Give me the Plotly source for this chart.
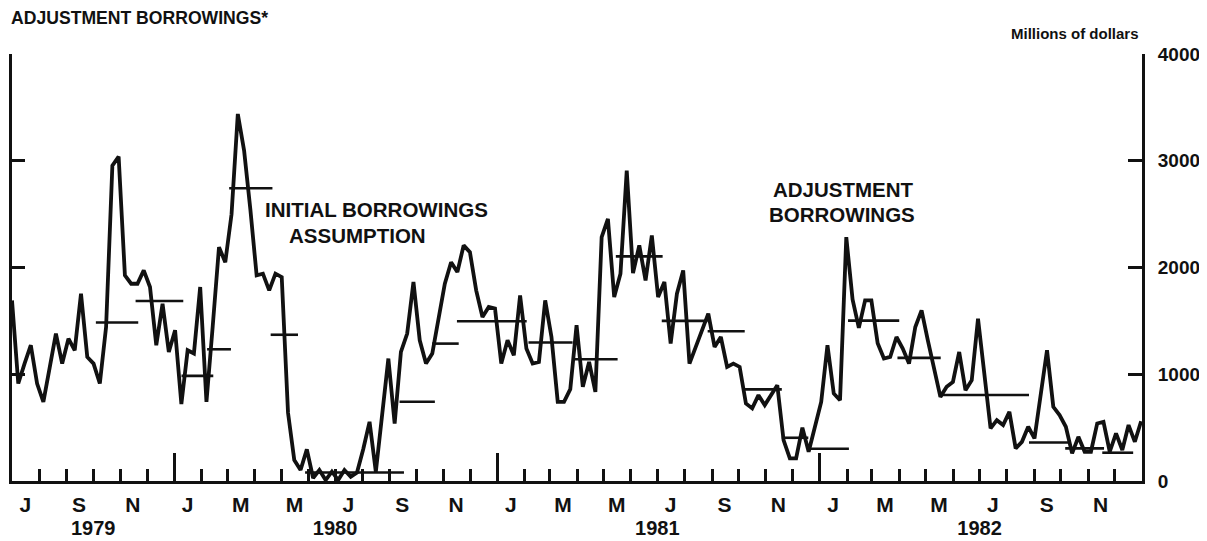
import pandas as pd
import plotly.graph_objects as go

# Weekly adjustment borrowings, millions of dollars, Jul 1979 - Dec 1982
borrowings = [
    1692, 913, 1100, 1272, 913, 742, 1060, 1381, 1100, 1334,
    1225, 1755, 1162, 1100, 913, 1443, 2954, 3039, 1926, 1848,
    1848, 1973, 1817, 1272, 1661, 1209, 1412, 720, 1225, 1194,
    1817, 742, 1450, 2191, 2050, 2500, 3438, 3095, 2543, 1926,
    1942, 1786, 1942, 1910, 640, 196, 103, 296, 28, 103,
    9, 87, 9, 103, 40, 80, 300, 554, 87, 620,
    1147, 539, 1209, 1381, 1864, 1318, 1100, 1194, 1536, 1848,
    2050, 1957, 2207, 2144, 1786, 1536, 1630, 1615, 1100, 1318,
    1178, 1739, 1241, 1100, 1115, 1692, 1349, 742, 742, 860,
    1459, 882, 1115, 835, 2284, 2456, 1723, 1942, 2908, 1948,
    2207, 1879, 2300, 1723, 1864, 1287, 1755, 1973, 1100, 1250,
    1410, 1568, 1256, 1349, 1069, 1100, 1069, 726, 680, 804,
    711, 800, 898, 383, 212, 212, 500, 274, 500, 740,
    1272, 820, 757, 2284, 1700, 1435, 1692, 1692, 1290, 1147,
    1162, 1349, 1240, 1100, 1443, 1599, 1318, 1038, 788, 882,
    928, 1209, 851, 944, 1521, 1007, 493, 570, 524, 648,
    306, 367, 508, 399, 800, 1225, 695, 617, 508, 259,
    414, 274, 274, 539, 554, 274, 446, 290, 524, 367,
    560,
]
weeks = pd.date_range("1979-07-01", "1982-12-31", periods=len(borrowings))

# Initial borrowings assumption for each reserve-path period
seg_start = ["1979-10-04", "1979-11-18", "1980-01-09", "1980-02-07", "1980-03-03",
             "1980-04-19", "1980-05-28", "1980-09-12", "1980-10-19", "1980-11-16",
             "1981-02-05", "1981-03-27", "1981-05-15", "1981-07-06", "1981-08-27",
             "1981-10-06", "1981-11-19", "1981-12-19", "1982-02-02", "1982-03-30",
             "1982-05-18", "1982-08-26", "1982-10-06", "1982-11-17"]
seg_end = ["1979-11-21", "1980-01-11", "1980-02-14", "1980-03-05", "1980-04-21",
           "1980-05-20", "1980-09-17", "1980-10-22", "1980-11-18", "1981-02-03",
           "1981-03-27", "1981-05-17", "1981-07-07", "1981-08-27", "1981-10-08",
           "1981-11-19", "1981-12-19", "1982-02-03", "1982-04-01", "1982-05-18",
           "1982-08-26", "1982-10-12", "1982-11-19", "1982-12-22"]
seg_value = [1485, 1686, 985, 1234, 2742, 1370, 80, 742, 1287, 1496,
             1297, 1141, 2104, 1500, 1403, 858, 405, 302, 1502, 1153,
             806, 360, 306, 265]

month_label_dates = ["1979-07-16", "1979-09-15", "1979-11-15", "1980-01-16", "1980-03-16",
                     "1980-05-16", "1980-07-16", "1980-09-15", "1980-11-15", "1981-01-16",
                     "1981-03-16", "1981-05-16", "1981-07-16", "1981-09-15", "1981-11-15",
                     "1982-01-16", "1982-03-16", "1982-05-16", "1982-07-16", "1982-09-15",
                     "1982-11-15"]
month_labels = ["J", "S", "N", "J", "M", "M", "J", "S", "N", "J", "M", "M",
                "J", "S", "N", "J", "M", "M", "J", "S", "N"]
year_label_dates = ["1979-10-01", "1980-07-01", "1981-07-01", "1982-07-01"]
year_labels = ["1979", "1980", "1981", "1982"]
year_starts = ["1980-01-01", "1981-01-01", "1982-01-01"]
y_ticks = [0, 1000, 2000, 3000, 4000]

X_RANGE = ["1979-07-01", "1983-01-01"]
Y_RANGE = [0, 4000]
FONT = "Liberation Sans, Arial, sans-serif"
BLACK = "#111111"

fig = go.Figure()
fig.add_trace(go.Scatter(x=weeks, y=borrowings, mode="lines",
                         line=dict(color=BLACK, width=3.8), showlegend=False,
                         hoverinfo="skip"))
sx, sy = [], []
for s, e, v in zip(seg_start, seg_end, seg_value):
    sx += [s, e, None]
    sy += [v, v, None]
fig.add_trace(go.Scatter(x=sx, y=sy, mode="lines", line=dict(color=BLACK, width=2.6),
                         showlegend=False, hoverinfo="skip"))
# helper empty traces so overlay axes are drawn
fig.add_trace(go.Scatter(x=[], y=[], xaxis="x2", yaxis="y2", showlegend=False))
fig.add_trace(go.Scatter(x=[], y=[], xaxis="x3", yaxis="y3", showlegend=False))

tickfont = dict(family=FONT, size=21, color=BLACK, weight="bold")

# page body has an 8px margin, so the figure is 8px smaller than the window
fig.update_layout(
    width=1199, height=533,
    margin=dict(l=4, r=65, t=46, b=60),
    paper_bgcolor="white", plot_bgcolor="white",
    showlegend=False,
    xaxis=dict(type="date", range=X_RANGE, showgrid=False, zeroline=False, automargin=False,
               showline=True, linecolor=BLACK, linewidth=3,
               ticks="inside", tickvals=year_starts, ticklen=28, tickwidth=2.5,
               tickcolor=BLACK, showticklabels=False,
               minor=dict(ticks="inside", dtick="M1", tick0="1979-07-01",
                          ticklen=12, tickwidth=2.5, tickcolor=BLACK, showgrid=False)),
    xaxis2=dict(type="date", range=X_RANGE, overlaying="x", anchor="y", side="bottom",
                automargin=False,
                showgrid=False, zeroline=False, showline=False, ticks="",
                tickvals=month_label_dates, ticktext=month_labels,
                tickfont=tickfont, ticklabelstandoff=9),
    xaxis3=dict(type="date", range=X_RANGE, overlaying="x", anchor="y", side="bottom",
                automargin=False,
                showgrid=False, zeroline=False, showline=False, ticks="",
                tickvals=year_label_dates, ticktext=year_labels,
                tickfont=dict(family=FONT, size=20, color=BLACK, weight="bold"),
                ticklabelstandoff=33),
    yaxis=dict(range=Y_RANGE, side="right", anchor="x", showgrid=False, zeroline=False,
               automargin=False,
               showline=True, linecolor=BLACK, linewidth=3,
               ticks="inside", tickvals=y_ticks, ticklen=14, tickwidth=2.5,
               tickcolor=BLACK, tickfont=dict(family=FONT, size=19, color=BLACK, weight="bold"),
               ticklabelstandoff=9),
    yaxis2=dict(range=Y_RANGE, overlaying="y", side="left", anchor="x", automargin=False,
                showgrid=False, zeroline=False, showline=True, linecolor=BLACK,
                linewidth=3, ticks="inside", tickvals=[4000], ticklen=25,
                tickwidth=2.5, tickcolor=BLACK, showticklabels=False,
                minor=dict(ticks="inside", tickvals=[1000, 2000, 3000], ticklen=13,
                           tickwidth=2.5, tickcolor=BLACK, showgrid=False)),
    yaxis3=dict(range=Y_RANGE, overlaying="y", side="right", anchor="x", automargin=False,
                showgrid=False, zeroline=False, showline=False,
                ticks="inside", tickvals=[4000], ticklen=29, tickwidth=2.5,
                tickcolor=BLACK, showticklabels=False),
)

text_font = dict(family=FONT, size=20.5, color=BLACK, weight="bold")
annotations = [
    dict(text="ADJUSTMENT BORROWINGS*", x=-0.003, y=1.084, xanchor="left", yanchor="middle",
         font=dict(family=FONT, size=17.6, color=BLACK, weight="bold")),
    dict(text="Millions of dollars", x=0.999, y=1.047, xanchor="right", yanchor="middle",
         font=dict(family=FONT, size=15, color=BLACK, weight="bold")),
    dict(text="INITIAL BORROWINGS", x=0.3227, y=0.637, xanchor="center", yanchor="middle",
         font=text_font),
    dict(text="ASSUMPTION", x=0.3059, y=0.5738, xanchor="center", yanchor="middle",
         font=text_font),
    dict(text="ADJUSTMENT", x=0.7356, y=0.6815, xanchor="center", yanchor="middle",
         font=text_font),
    dict(text="BORROWINGS", x=0.7343, y=0.6241, xanchor="center", yanchor="middle",
         font=text_font),
]
for a in annotations:
    a.update(xref="paper", yref="paper", showarrow=False)
fig.update_layout(annotations=annotations)

fig.write_html("out.html")
